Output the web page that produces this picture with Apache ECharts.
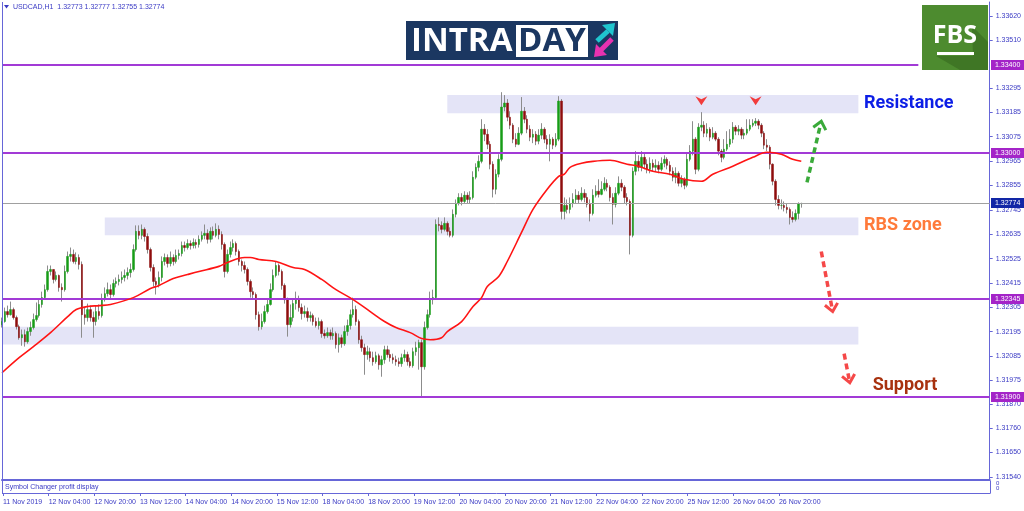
<!DOCTYPE html>
<html><head><meta charset="utf-8">
<script src="https://cdn.jsdelivr.net/npm/echarts@6/dist/echarts.min.js"></script>
<style>html,body{margin:0;padding:0;background:#fff}#c{width:1024px;height:511px}</style>
</head><body><div id="c"></div>
<script>
// ---------- DATA ----------
const symbolHeader = 'USDCAD,H1  1.32773 1.32777 1.32755 1.32774';
const firstOpen = 1.32227;
const closes = [1.32241,1.32286,1.32272,1.32295,1.32259,1.32218,1.32168,1.32182,1.32150,1.32196,
1.32214,1.32250,1.32268,1.32318,1.32349,1.32385,1.32467,1.32476,1.32431,1.32449,
1.32395,1.32385,1.32467,1.32535,1.32544,1.32512,1.32530,1.32499,1.32272,1.32259,
1.32295,1.32259,1.32241,1.32286,1.32268,1.32340,1.32367,1.32385,1.32363,1.32413,
1.32422,1.32431,1.32440,1.32449,1.32462,1.32476,1.32566,1.32648,1.32630,1.32657,
1.32625,1.32566,1.32485,1.32422,1.32408,1.32440,1.32512,1.32530,1.32503,1.32530,
1.32512,1.32539,1.32548,1.32584,1.32575,1.32593,1.32584,1.32598,1.32589,1.32612,
1.32630,1.32639,1.32612,1.32648,1.32630,1.32657,1.32634,1.32589,1.32467,1.32544,
1.32575,1.32593,1.32557,1.32512,1.32494,1.32476,1.32422,1.32376,1.32363,1.32272,
1.32218,1.32241,1.32286,1.32318,1.32385,1.32449,1.32494,1.32467,1.32404,1.32340,
1.32227,1.32259,1.32322,1.32340,1.32304,1.32277,1.32286,1.32259,1.32268,1.32241,
1.32223,1.32241,1.32187,1.32177,1.32191,1.32177,1.32187,1.32137,1.32168,1.32141,
1.32196,1.32223,1.32272,1.32295,1.32241,1.32159,1.32123,1.32092,1.32105,1.32078,
1.32060,1.32087,1.32046,1.32069,1.32114,1.32092,1.32078,1.32069,1.32060,1.32051,
1.32078,1.32092,1.32060,1.32042,1.32105,1.32123,1.32146,1.32037,1.32214,1.32272,
1.32340,1.32349,1.32679,1.32675,1.32657,1.32684,1.32648,1.32630,1.32725,1.32774,
1.32801,1.32783,1.32811,1.32792,1.32801,1.32892,1.32937,1.32964,1.33109,1.33086,
1.33041,1.32951,1.32838,1.32906,1.32973,1.33209,1.33227,1.33163,1.33127,1.33064,
1.33041,1.33091,1.33190,1.33154,1.33109,1.33073,1.33086,1.33055,1.33082,1.33109,
1.33064,1.33041,1.33064,1.33037,1.33064,1.33236,1.32738,1.32765,1.32747,1.32774,
1.32792,1.32811,1.32792,1.32820,1.32801,1.32770,1.32729,1.32811,1.32829,1.32815,
1.32838,1.32865,1.32847,1.32801,1.32770,1.32820,1.32865,1.32847,1.32801,1.32783,
1.32630,1.32919,1.32964,1.32937,1.32982,1.32951,1.32928,1.32955,1.32937,1.32946,
1.32928,1.32955,1.32973,1.32946,1.32919,1.32892,1.32910,1.32865,1.32883,1.32856,
1.32973,1.33010,1.33064,1.32928,1.33118,1.33127,1.33091,1.33109,1.33073,1.33091,
1.33064,1.33010,1.32982,1.33019,1.33041,1.33064,1.33118,1.33100,1.33109,1.33082,
1.33091,1.33109,1.33127,1.33136,1.33145,1.33127,1.33091,1.33037,1.33028,1.32951,
1.32874,1.32792,1.32765,1.32765,1.32756,1.32747,1.32711,1.32702,1.32729,1.32773,
1.32774];
const highs = [1.32259,1.32304,1.32313,1.32331,1.32304,1.32268,1.32227,1.32205,1.32205,1.32214,
1.32241,1.32277,1.32327,1.32340,1.32376,1.32408,1.32494,1.32494,1.32476,1.32467,
1.32453,1.32413,1.32494,1.32557,1.32575,1.32566,1.32553,1.32544,1.32512,1.32304,
1.32322,1.32313,1.32286,1.32313,1.32318,1.32367,1.32395,1.32417,1.32408,1.32431,
1.32440,1.32453,1.32467,1.32476,1.32485,1.32503,1.32589,1.32675,1.32675,1.32679,
1.32666,1.32639,1.32575,1.32499,1.32440,1.32467,1.32535,1.32548,1.32544,1.32557,
1.32544,1.32566,1.32566,1.32602,1.32602,1.32612,1.32607,1.32616,1.32612,1.32630,
1.32648,1.32679,1.32657,1.32666,1.32670,1.32684,1.32675,1.32648,1.32598,1.32566,
1.32602,1.32612,1.32602,1.32566,1.32521,1.32512,1.32485,1.32431,1.32395,1.32372,
1.32286,1.32277,1.32313,1.32340,1.32413,1.32476,1.32512,1.32503,1.32476,1.32413,
1.32349,1.32318,1.32340,1.32376,1.32358,1.32322,1.32313,1.32304,1.32286,1.32277,
1.32259,1.32259,1.32250,1.32205,1.32214,1.32205,1.32214,1.32196,1.32187,1.32182,
1.32223,1.32250,1.32295,1.32349,1.32313,1.32250,1.32177,1.32141,1.32132,1.32123,
1.32105,1.32105,1.32096,1.32087,1.32132,1.32132,1.32114,1.32096,1.32087,1.32078,
1.32096,1.32114,1.32105,1.32078,1.32123,1.32150,1.32159,1.32159,1.32241,1.32295,
1.32376,1.32385,1.32702,1.32711,1.32693,1.32711,1.32693,1.32666,1.32747,1.32792,
1.32820,1.32820,1.32829,1.32824,1.32829,1.32919,1.32955,1.32991,1.33154,1.33132,
1.33109,1.33055,1.32964,1.32928,1.32996,1.33276,1.33263,1.33245,1.33190,1.33136,
1.33091,1.33118,1.33254,1.33209,1.33172,1.33127,1.33109,1.33100,1.33109,1.33136,
1.33118,1.33082,1.33086,1.33073,1.33091,1.33258,1.33245,1.32801,1.32792,1.32801,
1.32820,1.32838,1.32829,1.32847,1.32838,1.32820,1.32792,1.32838,1.32856,1.32883,
1.32874,1.32892,1.32883,1.32856,1.32820,1.32847,1.32896,1.32883,1.32856,1.32820,
1.32792,1.32937,1.33010,1.32991,1.33010,1.33005,1.32973,1.32982,1.32973,1.32973,
1.32964,1.32982,1.32991,1.32982,1.32964,1.32937,1.32937,1.32919,1.32901,1.32892,
1.33000,1.33037,1.33145,1.33073,1.33136,1.33186,1.33145,1.33136,1.33118,1.33118,
1.33100,1.33073,1.33019,1.33064,1.33100,1.33109,1.33141,1.33127,1.33127,1.33118,
1.33109,1.33154,1.33154,1.33154,1.33159,1.33154,1.33136,1.33100,1.33064,1.33037,
1.32955,1.32883,1.32811,1.32792,1.32783,1.32774,1.32756,1.32738,1.32747,1.32779,
1.32777];
const lows = [1.32214,1.32236,1.32259,1.32268,1.32250,1.32205,1.32159,1.32132,1.32128,1.32141,
1.32177,1.32205,1.32241,1.32259,1.32304,1.32340,1.32376,1.32449,1.32413,1.32422,
1.32376,1.32331,1.32376,1.32458,1.32512,1.32503,1.32499,1.32476,1.32168,1.32227,
1.32241,1.32241,1.32168,1.32223,1.32250,1.32259,1.32331,1.32354,1.32340,1.32354,
1.32395,1.32404,1.32413,1.32422,1.32431,1.32440,1.32467,1.32557,1.32612,1.32612,
1.32602,1.32548,1.32467,1.32399,1.32363,1.32395,1.32422,1.32494,1.32485,1.32490,
1.32494,1.32503,1.32521,1.32535,1.32557,1.32566,1.32566,1.32571,1.32571,1.32575,
1.32602,1.32612,1.32593,1.32598,1.32612,1.32621,1.32612,1.32566,1.32440,1.32458,
1.32530,1.32557,1.32539,1.32494,1.32467,1.32458,1.32404,1.32349,1.32340,1.32250,
1.32200,1.32205,1.32232,1.32277,1.32313,1.32376,1.32440,1.32449,1.32385,1.32322,
1.32173,1.32214,1.32241,1.32295,1.32286,1.32250,1.32259,1.32241,1.32241,1.32223,
1.32214,1.32205,1.32168,1.32164,1.32168,1.32159,1.32159,1.32119,1.32101,1.32123,
1.32132,1.32177,1.32205,1.32259,1.32223,1.32141,1.32105,1.32001,1.32069,1.32060,
1.32042,1.32051,1.32024,1.31992,1.32051,1.32078,1.32060,1.32051,1.32042,1.32037,
1.32037,1.32060,1.32042,1.32033,1.32033,1.32087,1.32024,1.31902,1.32024,1.32205,
1.32259,1.32318,1.32340,1.32648,1.32639,1.32648,1.32630,1.32621,1.32621,1.32711,
1.32765,1.32765,1.32774,1.32774,1.32774,1.32792,1.32883,1.32919,1.32955,1.33055,
1.33019,1.32928,1.32801,1.32815,1.32892,1.32964,1.33190,1.33145,1.33109,1.33046,
1.33028,1.33037,1.33082,1.33136,1.33091,1.33055,1.33046,1.33037,1.33041,1.33064,
1.33046,1.33019,1.32964,1.33019,1.33028,1.33055,1.32702,1.32702,1.32729,1.32729,
1.32756,1.32774,1.32774,1.32783,1.32779,1.32756,1.32693,1.32720,1.32801,1.32801,
1.32811,1.32829,1.32829,1.32783,1.32679,1.32756,1.32811,1.32829,1.32774,1.32765,
1.32544,1.32621,1.32901,1.32919,1.32919,1.32928,1.32910,1.32910,1.32919,1.32919,
1.32910,1.32919,1.32937,1.32928,1.32901,1.32874,1.32865,1.32851,1.32847,1.32838,
1.32847,1.32964,1.32991,1.32906,1.32919,1.33100,1.33073,1.33073,1.33055,1.33064,
1.33055,1.32991,1.32960,1.32973,1.33010,1.33028,1.33046,1.33082,1.33082,1.33064,
1.33064,1.33082,1.33100,1.33118,1.33123,1.33109,1.33073,1.33019,1.33010,1.32928,
1.32856,1.32765,1.32747,1.32747,1.32738,1.32729,1.32679,1.32688,1.32693,1.32702,
1.32755];
// moving average: [bar index, value]
const maPoints = [[0,1.32010],[6,1.32078],[11,1.32128],[17,1.32191],[23,1.32263],[26,1.32295],
[30,1.32309],[34,1.32313],[38,1.32318],[46,1.32349],[52,1.32390],[55,1.32404],[60,1.32435],
[65,1.32453],[69,1.32467],[76,1.32490],[79,1.32508],[85,1.32530],[87,1.32530],[90,1.32521],
[96,1.32512],[102,1.32485],[106,1.32476],[112,1.32431],[117,1.32385],[123,1.32340],[129,1.32286],
[134,1.32241],[138,1.32214],[143,1.32191],[147,1.32164],[150,1.32159],[154,1.32168],[156,1.32196],
[161,1.32241],[165,1.32309],[168,1.32349],[170,1.32399],[174,1.32444],[177,1.32512],[182,1.32643],
[186,1.32747],[191,1.32838],[195,1.32896],[197,1.32906],[199,1.32937],[203,1.32955],[207,1.32964],
[213,1.32969],[219,1.32951],[223,1.32942],[228,1.32919],[234,1.32906],[239,1.32883],[245,1.32874],
[249,1.32906],[256,1.32942],[263,1.32982],[268,1.33005],[273,1.32996],[277,1.32973],[280,1.32964]];
const priceTicks = [1.33620,1.33510,1.33295,1.33185,1.33075,1.32965,1.32855,1.32745,1.32635,1.32525,
1.32415,1.32305,1.32195,1.32085,1.31975,1.31870,1.31760,1.31650,1.31540];
const levelLines = [1.33400,1.33000,1.32345,1.31900];
const levelLineEnds = [321,346,346,346];
const currentPrice = 1.32774;
// zones: [fromBar, toBar, top, bottom]
const zones = [[156,300,1.33263,1.33181],[36,300,1.32711,1.32630],[0,300,1.32218,1.32137]];
const topMarkers = [[245,1.33240],[264,1.33240]];
const zoneTexts = [['Resistance',301.6,1.33227,'#0c1ee6'],['RBS zone',302.3,1.32675,'#ff7a3a'],['Support',305.1,1.31951,'#a8320f']];
const arrows = [[282.3,1.32869,286.9,1.33145,'#3aaa3a'],[286.5,1.32557,291.1,1.32286,'#f54848'],[295.3,1.32096,297.4,1.31965,'#f54848']];
const barCount = 347;
const startTime = Date.UTC(2019,10,11,12);

// ---------- BUILD ----------
const months=['Jan','Feb','Mar','Apr','May','Jun','Jul','Aug','Sep','Oct','Nov','Dec'];
const cats=[];
for(let t=startTime; cats.length<barCount; t+=3600000){
  const d=new Date(t), wd=d.getUTCDay();
  if(wd!==0 && wd!==6) cats.push(d);
}
const pad=n=>(n<10?'0':'')+n;
const catLabels=cats.map((d,i)=> i===0 ? d.getUTCDate()+' '+months[d.getUTCMonth()]+' '+d.getUTCFullYear()
  : d.getUTCDate()+' '+months[d.getUTCMonth()]+' '+pad(d.getUTCHours())+':00');

const opens = closes.map((c,i)=> i===0 ? firstOpen : closes[i-1]);
const fullCandles = closes.map((c,i)=>{const o=opens[i];return [o,c,Math.min(lows[i],o,c),Math.max(highs[i],o,c)];});
const bodyCandles = closes.map((c,i)=>{const o=opens[i];return [o,c,Math.min(o,c),Math.max(o,c)];});

const BLUE='#3a3ac4', AX='#6666d8', PURPLE='#a23ad6';
const lastBar = closes.length-1;
const labelEvery = (i)=> i%16===0 && i<=lastBar;

const lineData = levelLines.map((v,k)=>[v,levelLineEnds[k],0]);
lineData.push([currentPrice,346,1]);

const option = {
  animation:false,
  backgroundColor:'#ffffff',
  grid:[{left:2,right:34,top:2,bottom:31},{left:2,right:34,top:481,height:12}],
  xAxis:[
    {type:'category',gridIndex:0,data:catLabels,boundaryGap:false,
     axisLine:{show:true,lineStyle:{color:AX,width:2}},axisTick:{show:false},axisLabel:{show:false},splitLine:{show:false}},
    {type:'category',gridIndex:1,data:catLabels,boundaryGap:false,
     axisLine:{show:true,lineStyle:{color:AX,width:1}},
     axisTick:{show:true,interval:(i)=>labelEvery(i),length:3,lineStyle:{color:AX}},
     axisLabel:{show:true,interval:(i)=>labelEvery(i),align:'left',margin:6,color:BLUE,fontSize:7,fontFamily:'Liberation Sans'},
     splitLine:{show:false}}
  ],
  yAxis:[
    {type:'value',gridIndex:0,position:'right',min:1.31526,max:1.33683,scale:true,
     axisLine:{show:true,lineStyle:{color:AX}},
     axisTick:{show:true,customValues:priceTicks,length:3,lineStyle:{color:AX}},
     axisLabel:{show:true,customValues:priceTicks,formatter:v=>Number(v).toFixed(5),color:BLUE,fontSize:7,fontFamily:'Liberation Sans',margin:6},
     splitLine:{show:false}},
    {type:'value',gridIndex:1,position:'right',min:0,max:1,
     axisLine:{show:true,lineStyle:{color:AX}},axisTick:{show:false},axisLabel:{show:false},splitLine:{show:false}}
  ],
  series:[
    {type:'custom',name:'zones',xAxisIndex:0,yAxisIndex:0,z:1,silent:true,data:zones,
     renderItem:(params,api)=>{
       const p1=api.coord([api.value(0),api.value(2)]), p2=api.coord([api.value(1),api.value(3)]);
       return {type:'rect',shape:{x:p1[0],y:p1[1],width:p2[0]-p1[0],height:p2[1]-p1[1]},style:{fill:'#e4e4f7'}};
     }},
    {type:'candlestick',name:'wicks',xAxisIndex:0,yAxisIndex:0,z:2,barWidth:1,data:fullCandles,silent:true,
     itemStyle:{color:'#8c8c8c',color0:'#8c8c8c',borderColor:'#8c8c8c',borderColor0:'#8c8c8c',borderWidth:1}},
    {type:'candlestick',name:'bodies',xAxisIndex:0,yAxisIndex:0,z:3,barWidth:2,data:bodyCandles,silent:true,
     itemStyle:{color:'#179c17',color0:'#8e0d0d',borderColor:'#179c17',borderColor0:'#8e0d0d',borderWidth:0.5}},
    {type:'custom',name:'levels',xAxisIndex:0,yAxisIndex:0,z:4,silent:true,data:lineData,clip:false,
     renderItem:(params,api)=>{
       const a=api.coord([0,api.value(0)]), b=api.coord([api.value(1),api.value(0)]);
       const cur=api.value(2)===1;
       const y=cur?Math.round(a[1])+0.5:Math.round(a[1]);
       return {type:'line',shape:{x1:a[0],y1:y,x2:b[0],y2:y},
         style:{stroke:cur?'#a0a0a0':PURPLE,lineWidth:cur?1:2}};
     }},
    {type:'line',name:'MA',xAxisIndex:0,yAxisIndex:0,z:5,data:maPoints,smooth:0.35,symbol:'none',silent:true,
     lineStyle:{color:'#ff1414',width:1.6}}
  ]
};

const chart = echarts.init(document.getElementById('c'));
chart.setOption(option);

const px=(i,v)=>chart.convertToPixel({xAxisIndex:0,yAxisIndex:0},[i,v]);
const py=v=>chart.convertToPixel({yAxisIndex:0},v);
const g=[];
// axis tags
levelLines.forEach(v=>{
  const y=py(v);
  g.push({type:'rect',shape:{x:991,y:Math.round(y)-5,width:33,height:10},style:{fill:'#a424c8'},z:50});
  g.push({type:'text',x:995,y:Math.round(y),style:{text:v.toFixed(5),fill:'#fff',font:'7px "Liberation Sans"',verticalAlign:'middle'},z:51});
});
{
  const y=py(currentPrice);
  g.push({type:'rect',shape:{x:991,y:Math.round(y)-5,width:33,height:10},style:{fill:'#1226a6'},z:50});
  g.push({type:'text',x:995,y:Math.round(y),style:{text:currentPrice.toFixed(5),fill:'#fff',font:'7px "Liberation Sans"',verticalAlign:'middle'},z:51});
}
// frame
g.push({type:'line',shape:{x1:2.5,y1:2,x2:2.5,y2:494},style:{stroke:AX,lineWidth:1},z:40});
// header
g.push({type:'polygon',shape:{points:[[4,5],[9,5],[6.5,8.5]]},style:{fill:BLUE},z:40});
g.push({type:'text',x:13,y:7,style:{text:symbolHeader,fill:BLUE,font:'7px "Liberation Sans"',verticalAlign:'middle'},z:40});
g.push({type:'text',x:5,y:487,style:{text:'Symbol Changer profit display',fill:BLUE,font:'7px "Liberation Sans"',verticalAlign:'middle'},z:40});
g.push({type:'text',x:996,y:483,style:{text:'0',fill:BLUE,font:'6px "Liberation Sans"',verticalAlign:'middle'},z:40});
g.push({type:'text',x:996,y:488.5,style:{text:'0',fill:BLUE,font:'6px "Liberation Sans"',verticalAlign:'middle'},z:40});
// top markers
topMarkers.forEach(m=>{
  const p=px(m[0],m[1]);
  g.push({type:'polygon',shape:{points:[[p[0]-6,p[1]-4],[p[0],p[1]-1],[p[0]+6,p[1]-4],[p[0],p[1]+5]]},style:{fill:'#f23c3c'},z:30});
});
// zone texts
zoneTexts.forEach(t=>{
  const p=px(t[1],t[2]);
  g.push({type:'text',x:p[0],y:p[1],style:{text:t[0],fill:t[3],font:'bold 18px Roboto',verticalAlign:'middle'},z:30});
});
// arrows
arrows.forEach(a=>{
  const p0=px(a[0],a[1]), p1=px(a[2],a[3]);
  const dx=p1[0]-p0[0], dy=p1[1]-p0[1], L=Math.hypot(dx,dy), ux=dx/L, uy=dy/L;
  const len=10, ang=0.7;
  const rot=(s)=>[p1[0]-(ux*Math.cos(s*ang)-uy*Math.sin(s*ang))*len, p1[1]-(ux*Math.sin(s*ang)+uy*Math.cos(s*ang))*len];
  g.push({type:'line',shape:{x1:p0[0],y1:p0[1],x2:p1[0]-ux*4,y2:p1[1]-uy*4},style:{stroke:a[4],lineWidth:3.5,lineDash:[6,4]},z:30});
  g.push({type:'polyline',shape:{points:[rot(1),p1,rot(-1)]},style:{stroke:a[4],lineWidth:3,fill:null},z:30});
});
// INTRADAY logo
g.push({type:'rect',shape:{x:406,y:21,width:212,height:39},style:{fill:'#1b3761'},z:60});
g.push({type:'text',x:411,y:42,style:{text:'INTRA',fill:'#ffffff',font:'bold 33px "Open Sans"',verticalAlign:'middle'},z:61});
g.push({type:'rect',shape:{x:516,y:25,width:72,height:32},style:{fill:'#ffffff'},z:61});
g.push({type:'text',x:518,y:42,style:{text:'DAY',fill:'#1b3761',font:'bold 33px "Open Sans"',verticalAlign:'middle'},z:62});
g.push({type:'line',shape:{x1:597,y1:41,x2:608,y2:31},style:{stroke:'#1fc6cf',lineWidth:5},z:62});
g.push({type:'polygon',shape:{points:[[615,23],[602,25],[613,36]]},style:{fill:'#1fc6cf'},z:62});
g.push({type:'line',shape:{x1:612,y1:39,x2:601,y2:50},style:{stroke:'#e832b0',lineWidth:5},z:62});
g.push({type:'polygon',shape:{points:[[594,57],[596,44],[607,55]]},style:{fill:'#e832b0'},z:62});
// FBS logo
g.push({type:'rect',shape:{x:922,y:5,width:66,height:65},style:{fill:'#4d8b2f'},z:60});
g.push({type:'polygon',shape:{points:[[972,26],[988,42],[988,70],[960,70],[936,56],[973,56]]},style:{fill:'#3f7625'},z:61});
g.push({type:'text',x:955,y:36,style:{text:'FBS',fill:'#ffffff',font:'bold 25px "Open Sans"',align:'center',verticalAlign:'middle'},z:62});
g.push({type:'rect',shape:{x:937,y:52,width:37,height:3},style:{fill:'#ffffff'},z:62});
chart.setOption({graphic:g});
</script></body></html>
